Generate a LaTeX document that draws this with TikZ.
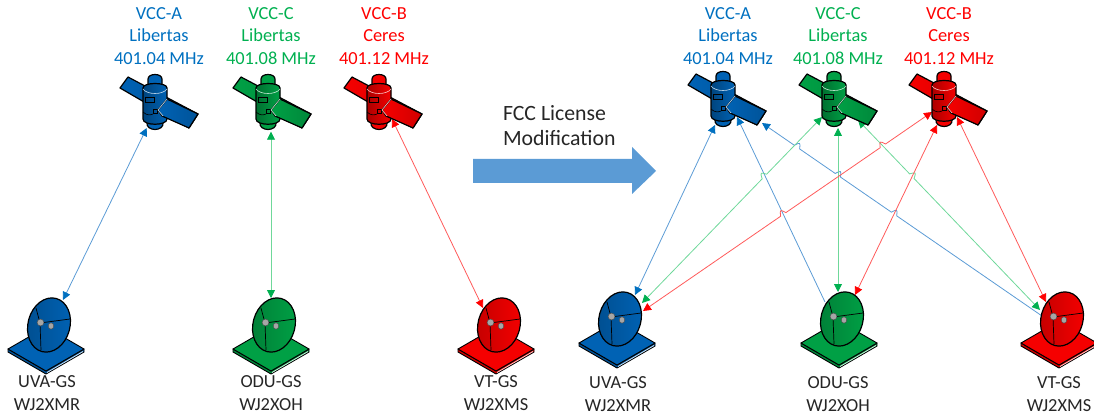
\documentclass[tikz,border=0pt]{standalone}
\usepackage{fontspec}
\setmainfont{Carlito}
\usetikzlibrary{arrows.meta,calc}
\definecolor{iconblue}{HTML}{0062B4}
\definecolor{icongreen}{HTML}{00A045}
\definecolor{iconred}{HTML}{F50000}
\definecolor{textblue}{HTML}{0070C0}
\definecolor{textgreen}{HTML}{00B050}
\definecolor{textred}{HTML}{FF0000}
\definecolor{lineblue}{HTML}{5B9BD5}
\definecolor{linegreen}{HTML}{6FD89A}
\definecolor{linered}{HTML}{FF5A5A}
\definecolor{arrowblue}{HTML}{5B9BD5}
\newcommand{\hopat}[3]{-- ($(#1)!-3.2pt!(#2)$) .. controls ($(#1)!6pt!#3:(#2)$) .. ($(#1)!3.2pt!(#2)$)}
\tikzset{
  label/.style={font=\fontsize{18.4}{22.5}\selectfont,align=center,text=#1},
  gslabel/.style={font=\fontsize{18.4}{23}\selectfont,align=center,text=black!85},
  link/.style 2 args={draw=#1,line width=.8pt,arrows={Triangle[length=8pt,width=8pt,color=#2]-Triangle[length=8pt,width=8pt,color=#2]}},
  linkone/.style 2 args={draw=#1,line width=.8pt,arrows={-Triangle[length=8pt,width=8pt,color=#2]}},
  outline/.style={draw=black,line width=1.2pt,line join=round},
  thinoutline/.style={draw=black,line width=.9pt,line join=round},
  pics/satellite/.style={code={
    % panels behind the body
    \path[outline,left color=#1,right color=#1!85!black] (-35,-12) -- (-27,-23) -- (43,14) -- (34,28) -- cycle;
    % stub, nozzle and body
    \path[outline,fill=#1] (-7,-14) -- (-7,-21) .. controls (-7,-27) and (7,-27) .. (7,-21) -- (7,-14) -- cycle;
    \path[outline,fill=#1] (-8,22) .. controls (-10,32) and (10,32) .. (8,22) -- cycle;
    \path[outline,left color=#1!70!black,right color=#1] (-12,-12) -- (-12,19) .. controls (-12,26) and (12,26) .. (12,19) -- (12,-12) .. controls (12,-18) and (-12,-18) .. cycle;
    \draw[white!75!#1,line width=.6pt] (-12,-11) .. controls (-8,-5) and (8,-5) .. (12,-11);
    \draw[black,line width=.6pt] (-10,-3) rectangle (-1,2);
    \draw[black,line width=.6pt] (-2,9) rectangle (2,13);
    \draw[black,line width=.6pt] (-12,12) .. controls (-8,16) and (-4,15) .. (-2,14);
    % front part of the right panel
    \path[outline,left color=#1,right color=#1!85!black] (12,-1) -- (43,14) -- (34,28) -- (7,16) -- (3,10) -- cycle;
    \draw[white!70!#1,line width=.7pt] (12,-1) -- (3,10) -- (8,16);
  }},
  pics/station/.style={code={
    % base plate
    \path[thinoutline,fill=#1!85!black] (-38,0) -- (-38,3) -- (0,25) -- (38,3) -- (38,0) -- (0,22) -- cycle;
    \path[thinoutline,fill=#1] (-38,0) -- (0,-22) -- (38,0) -- (0,22) -- cycle;
    \draw[white!80!#1,line width=.8pt] (1,23.5) -- (37,2.5);
    % dish
    \path[outline,left color=#1!80!black,right color=#1] (3,-24) circle[x radius=21pt,y radius=27.5pt,rotate=-15];
    \draw[black,line width=.7pt] (-10,-41) -- (-6,-26) -- (-5,1);
    \draw[black,line width=.7pt] (-6,-26) -- (24,-30);
    \path[draw=black!70,line width=.4pt,fill=black!35] (-5.5,-26.5) circle[radius=3.4pt];
    \path[draw=black!70,line width=.4pt,fill=black!35] (5,-23) circle[x radius=2.7pt,y radius=3.2pt];
  }}
}
\begin{document}
\begin{tikzpicture}[x=1pt,y=-1pt]
\useasboundingbox (0,0) rectangle (1094,414);
\clip (0,0) rectangle (1094,414);
% ends of the links, left half
\coordinate (satAl) at (146.7,128);
\coordinate (satCl) at (271,131.7);
\coordinate (satBl) at (392,119);
\coordinate (dishUl) at (63,300);
\coordinate (dishOl) at (271,298);
\coordinate (dishVl) at (483,308);
\path[link={lineblue}{textblue}] (dishUl) -- (satAl);
\path[link={linegreen}{textgreen}] (dishOl) -- (satCl);
\path[link={linered}{textred}] (dishVl) -- (satBl);
% ends of the links, right half
\coordinate (satA1) at (715,125);
\coordinate (satA2) at (737,117);
\coordinate (satA3) at (762,123);
\coordinate (satC1) at (822,117);
\coordinate (satC2) at (838,128);
\coordinate (satC3) at (858,120);
\coordinate (satB1) at (932,112);
\coordinate (satB2) at (937,125);
\coordinate (satB3) at (957,117);
\coordinate (dishU1) at (635,295);
\coordinate (dishU2) at (642,303);
\coordinate (dishU3) at (643,311);
\coordinate (dishO1) at (825,302);
\coordinate (dishO2) at (838,292);
\coordinate (dishO3) at (855,295);
\coordinate (dishV1) at (1042,316);
\coordinate (dishV2) at (1040,310);
\coordinate (dishV3) at (1046,302);
% line jumps
\coordinate (hop1) at ($(dishV1)!(894,214)!(satA3)$);
\coordinate (hop2) at ($(dishV1)!(838,175)!(satA3)$);
\coordinate (hop3) at ($(dishV1)!(797,147)!(satA3)$);
\coordinate (hop4) at ($(dishU2)!(766,178)!(satC1)$);
\coordinate (hop5) at ($(dishV2)!(912,176)!(satC3)$);
\coordinate (hop6) at ($(dishU3)!(783,214)!(satB1)$);
\coordinate (hop7) at ($(dishU3)!(883,146)!(satB1)$);
\path[link={lineblue}{textblue}] (dishU1) -- (satA1);
\path[linkone={lineblue}{textblue}] (dishO1) -- (satA2);
\path[linkone={lineblue}{textblue}] (dishV1) \hopat{hop1}{satA3}{-90} \hopat{hop2}{satA3}{-90} \hopat{hop3}{satA3}{-90} -- (satA3);
\path[link={linegreen}{textgreen}] (dishU2) \hopat{hop4}{satC1}{90} -- (satC1);
\path[link={linegreen}{textgreen}] (dishO2) -- (satC2);
\path[link={linegreen}{textgreen}] (dishV2) \hopat{hop5}{satC3}{-90} -- (satC3);
\path[link={linered}{textred}] (dishU3) \hopat{hop6}{satB1}{90} \hopat{hop7}{satB1}{90} -- (satB1);
\path[link={linered}{textred}] (dishO3) -- (satB2);
\path[link={linered}{textred}] (dishV3) -- (satB3);
% satellites
\pic (vccAl) at (155,100) {satellite=iconblue};
\pic (vccCl) at (268,100) {satellite=icongreen};
\pic (vccBl) at (379,100) {satellite=iconred};
\pic (vccAr) at (723,97) {satellite=iconblue};
\pic (vccCr) at (834,97) {satellite=icongreen};
\pic (vccBr) at (944,97) {satellite=iconred};
% ground stations
\pic (gsUl) at (46,349) {station=iconblue};
\pic (gsOl) at (271,349) {station=icongreen};
\pic (gsVl) at (496,349) {station=iconred};
\pic (gsUr) at (617,343) {station=iconblue};
\pic (gsOr) at (839,343) {station=icongreen};
\pic (gsVr) at (1059,343) {station=iconred};
% satellite labels
\node[label=textblue] (txtAl) at (159,36) {VCC-A\\Libertas\\401.04 MHz};
\node[label=textgreen] (txtCl) at (271,36) {VCC-C\\Libertas\\401.08 MHz};
\node[label=textred] (txtBl) at (384,36) {VCC-B\\Ceres\\401.12 MHz};
\node[label=textblue] (txtAr) at (728,36) {VCC-A\\Libertas\\401.04 MHz};
\node[label=textgreen] (txtCr) at (838,36) {VCC-C\\Libertas\\401.08 MHz};
\node[label=textred] (txtBr) at (949,36) {VCC-B\\Ceres\\401.12 MHz};
% station labels
\node[gslabel] (txtUl) at (47,393) {UVA-GS\\WJ2XMR};
\node[gslabel] (txtOl) at (271,393) {ODU-GS\\WJ2XOH};
\node[gslabel] (txtVl) at (496,393) {VT-GS\\WJ2XMS};
\node[gslabel] (txtUr) at (618,394) {UVA-GS\\WJ2XMR};
\node[gslabel] (txtOr) at (838,394) {ODU-GS\\WJ2XOH};
\node[gslabel] (txtVr) at (1059,394) {VT-GS\\WJ2XMS};
% licence arrow
\fill[arrowblue] (473,159) -- (632,159) -- (632,147) -- (656,171) -- (632,194) -- (632,183) -- (473,183) -- cycle;
\node[font=\fontsize{21.8}{25}\selectfont,align=left,anchor=west,text=black!85] (txtFcc) at (499.5,125.5) {FCC License\\Modification};
\end{tikzpicture}
\end{document}
